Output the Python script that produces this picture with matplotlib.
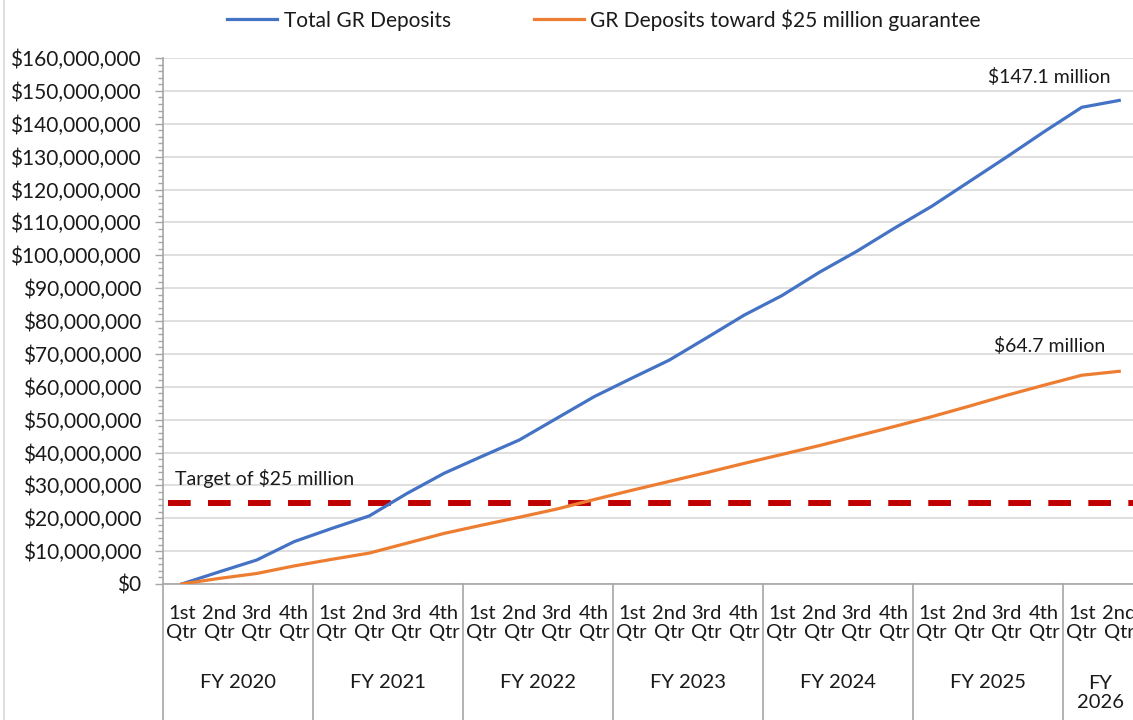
import numpy as np
import matplotlib
matplotlib.use("Agg")
import matplotlib.pyplot as plt
from matplotlib.ticker import FuncFormatter, MultipleLocator
from matplotlib.transforms import blended_transform_factory
from matplotlib.lines import Line2D

plt.rcParams['font.family'] = ['Lato', 'DejaVu Sans']

# quarterly cumulative deposits, in $ millions
quarters = ['1st\nQtr', '2nd\nQtr', '3rd\nQtr', '4th\nQtr'] * 6 + ['1st\nQtr', '2nd\nQtr']
fiscal_years = ['FY 2020', 'FY 2021', 'FY 2022', 'FY 2023', 'FY 2024', 'FY 2025', 'FY\n2026']
fy_sizes = [4, 4, 4, 4, 4, 4, 2]
total_gr = [0, 3.7, 7.3, 12.9, 16.9, 20.7, 27.5, 33.7, 38.8, 43.8, 50.4, 57.0, 62.6,
            68.1, 74.9, 81.8, 87.7, 94.8, 101.2, 108.2, 114.9, 122.4, 129.9, 137.6, 145.0, 147.1]
toward_guarantee = [0, 1.7, 3.2, 5.5, 7.5, 9.4, 12.4, 15.4, 17.9, 20.3, 22.8, 25.7, 28.5,
                    31.2, 33.9, 36.7, 39.4, 42.1, 45.0, 47.9, 50.9, 54.1, 57.4, 60.5, 63.5, 64.7]
target = 24.7

BLUE = '#4472C4'
ORANGE = '#ED7D31'
RED = '#C00000'
AXIS = '#A6A6A6'
TXT = '#1a1a1a'
FS = 15      # ticks / legend
FS_CAT = 14.5
FS_NOTE = 14

fig = plt.figure(figsize=(11.33, 7.2), dpi=100)
ax = fig.add_axes([163/1133, 1-584/720, 975/1133, 526/720])

x = np.arange(len(quarters))
ax.plot(x, np.array(total_gr)*1e6, color=BLUE, lw=2.3, label='Total GR Deposits', zorder=3)
ax.plot(x, np.array(toward_guarantee)*1e6, color=ORANGE, lw=2.3,
        label='GR Deposits toward $25 million guarantee', zorder=3)
ax.plot([-0.37, 25.5], [target*1e6, target*1e6], color=RED, lw=4.3,
        dashes=(3.8, 2.9), zorder=2)

ax.set_xlim(-0.5, 25.5)
ax.set_ylim(0, 160e6)
ax.yaxis.set_major_locator(MultipleLocator(10e6))
ax.yaxis.set_minor_locator(MultipleLocator(2e6))
ax.yaxis.set_major_formatter(FuncFormatter(lambda v, p: '${:,.0f}'.format(v)))
ax.grid(axis='y', color='#D9D9D9', lw=1.2)
ax.set_axisbelow(True)
ax.tick_params(axis='y', which='major', length=5.8, width=1, color=AXIS, pad=10,
               labelsize=FS, labelcolor=TXT)
ax.tick_params(axis='y', which='minor', length=3.6, width=1, color=AXIS)
ax.set_xticks([])
for s in ['top', 'right']:
    ax.spines[s].set_visible(False)
for s in ['left', 'bottom']:
    ax.spines[s].set_color(AXIS)
    ax.spines[s].set_linewidth(1.2)

# multi level category axis
tr = blended_transform_factory(ax.transData, ax.transAxes)
for i, q in enumerate(quarters):
    ax.text(i, -0.074, q, transform=tr, ha='center', va='center', fontsize=FS_CAT,
            color=TXT, linespacing=1.15, clip_on=False)
start = 0
bounds = [-0.5]
for fy, n in zip(fiscal_years, fy_sizes):
    yy = -0.208 if '\n' in fy else -0.188
    ax.text(start + (n-1)/2, yy, fy, transform=tr, ha='center', va='center',
            fontsize=FS_CAT, color=TXT, linespacing=1.15, clip_on=False)
    start += n
    bounds.append(start - 0.5)
for b in bounds:
    ax.add_line(Line2D([b, b], [0, -0.27], transform=tr, color=AXIS, lw=1.2, clip_on=False))

ax.text(-0.18, 32.2e6, 'Target of $25 million', fontsize=FS_NOTE, color=TXT, va='center')
ax.text(23.13, 154.3e6, '$147.1 million', fontsize=FS_NOTE, color=TXT, ha='center', va='center')
ax.text(23.13, 72.4e6, '$64.7 million', fontsize=FS_NOTE, color=TXT, ha='center', va='center')

fig.legend(loc='center', bbox_to_anchor=(604/1133, 1-20/720), ncol=2, frameon=False,
           fontsize=FS, handlelength=2.4, columnspacing=4.0, handletextpad=0.3,
           labelcolor=TXT)

# chart border on the left edge
fig.add_artist(Line2D([4/1133, 4/1133], [0, 1], transform=fig.transFigure, color='#D9D9D9', lw=1.2))

fig.savefig('out.png', dpi=100)
